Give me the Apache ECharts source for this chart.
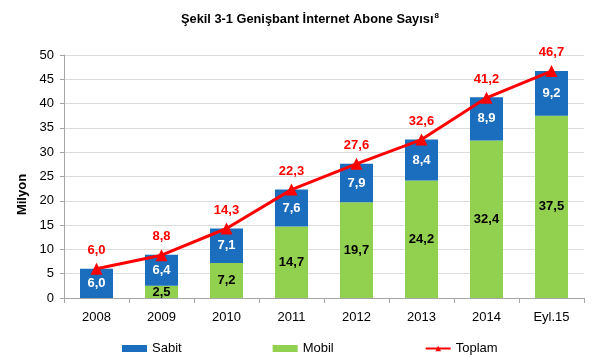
<!DOCTYPE html>
<html><head><meta charset="utf-8">
<script src="https://cdn.jsdelivr.net/npm/echarts@6/dist/echarts.min.js"></script>
<style>html,body{margin:0;padding:0;background:#fff}#c{width:600px;height:361px}</style>
</head><body><div id="c"></div>
<script>
const categories = ['2008','2009','2010','2011','2012','2013','2014','Eyl.15'];
const sabit = [6.0, 6.4, 7.1, 7.6, 7.9, 8.4, 8.9, 9.2];
const mobil = [null, 2.5, 7.2, 14.7, 19.7, 24.2, 32.4, 37.5];
const toplam = [6.0, 8.8, 14.3, 22.3, 27.6, 32.6, 41.2, 46.7];
const yTicks = [0, 5, 10, 15, 20, 25, 30, 35, 40, 45, 50];

const FONT = 'Arial, "Liberation Sans", sans-serif';
const fmt = v => (v == null ? '' : v.toFixed(1).replace('.', ','));

const chart = echarts.init(document.getElementById('c'));
chart.setOption({
  animation: false,
  textStyle: { fontFamily: FONT },
  title: {
    text: '{t|Şekil 3-1 Genişbant İnternet Abone Sayısı}{s|8}',
    left: 176, top: 7,
    textStyle: {
      rich: {
        t: { fontFamily: FONT, fontWeight: 'bold', fontSize: 12.8, color: '#000' },
        s: { fontFamily: FONT, fontWeight: 'bold', fontSize: 8, color: '#000', verticalAlign: 'top', padding: [0,0,6,1] }
      }
    }
  },
  legend: {
    bottom: 1, left: 117,
    itemGap: 91, itemWidth: 25, itemHeight: 7,
    textStyle: { fontFamily: FONT, fontSize: 13, color: '#000' },
    data: [
      { name: 'Sabit', icon: 'rect' },
      { name: 'Mobil', icon: 'rect' },
      { name: 'Toplam' }
    ]
  },
  grid: { left: 64, right: 16, top: 55, bottom: 63 },
  xAxis: {
    type: 'category', data: categories,
    axisLine: { lineStyle: { color: '#a6a6a6', width: 1 } },
    axisTick: { show: true, length: 5, lineStyle: { color: '#a6a6a6' } },
    axisLabel: { color: '#000', fontSize: 13, margin: 13, fontFamily: FONT }
  },
  yAxis: {
    type: 'value', min: yTicks[0], max: yTicks[yTicks.length - 1], interval: 5,
    name: 'Milyon', nameLocation: 'middle', nameGap: 35,
    nameTextStyle: { fontWeight: 'bold', fontSize: 13, color: '#000', fontFamily: FONT, padding: [0, 36, 0, 0] },
    axisLine: { show: true, lineStyle: { color: '#a6a6a6' } },
    axisTick: { show: true, length: 4, lineStyle: { color: '#a6a6a6' } },
    axisLabel: { color: '#000', fontSize: 13, margin: 10, fontFamily: FONT },
    splitLine: { lineStyle: { color: '#dcdcdc', width: 1 } }
  },
  series: [
    {
      name: 'Mobil', type: 'bar', stack: 'a', data: mobil, barWidth: 33,
      itemStyle: { color: '#92d050' },
      label: { show: true, position: 'inside', color: '#000', fontWeight: 'bold', fontSize: 13,
        formatter: p => fmt(p.value) }
    },
    {
      name: 'Sabit', type: 'bar', stack: 'a', data: sabit, barWidth: 33,
      itemStyle: { color: '#1a6ebd' },
      label: { show: true, position: 'inside', color: '#fff', fontWeight: 'bold', fontSize: 13,
        formatter: p => fmt(p.value) }
    },
    {
      name: 'Toplam', type: 'line', data: toplam,
      symbol: 'triangle', symbolSize: 12,
      lineStyle: { color: '#ff0000', width: 3 },
      itemStyle: { color: '#ff0000' },
      label: { show: true, position: 'top', distance: 6, color: '#ff0000', fontWeight: 'bold', fontSize: 13,
        formatter: p => fmt(p.value) },
      z: 5
    }
  ]
});
</script></body></html>
